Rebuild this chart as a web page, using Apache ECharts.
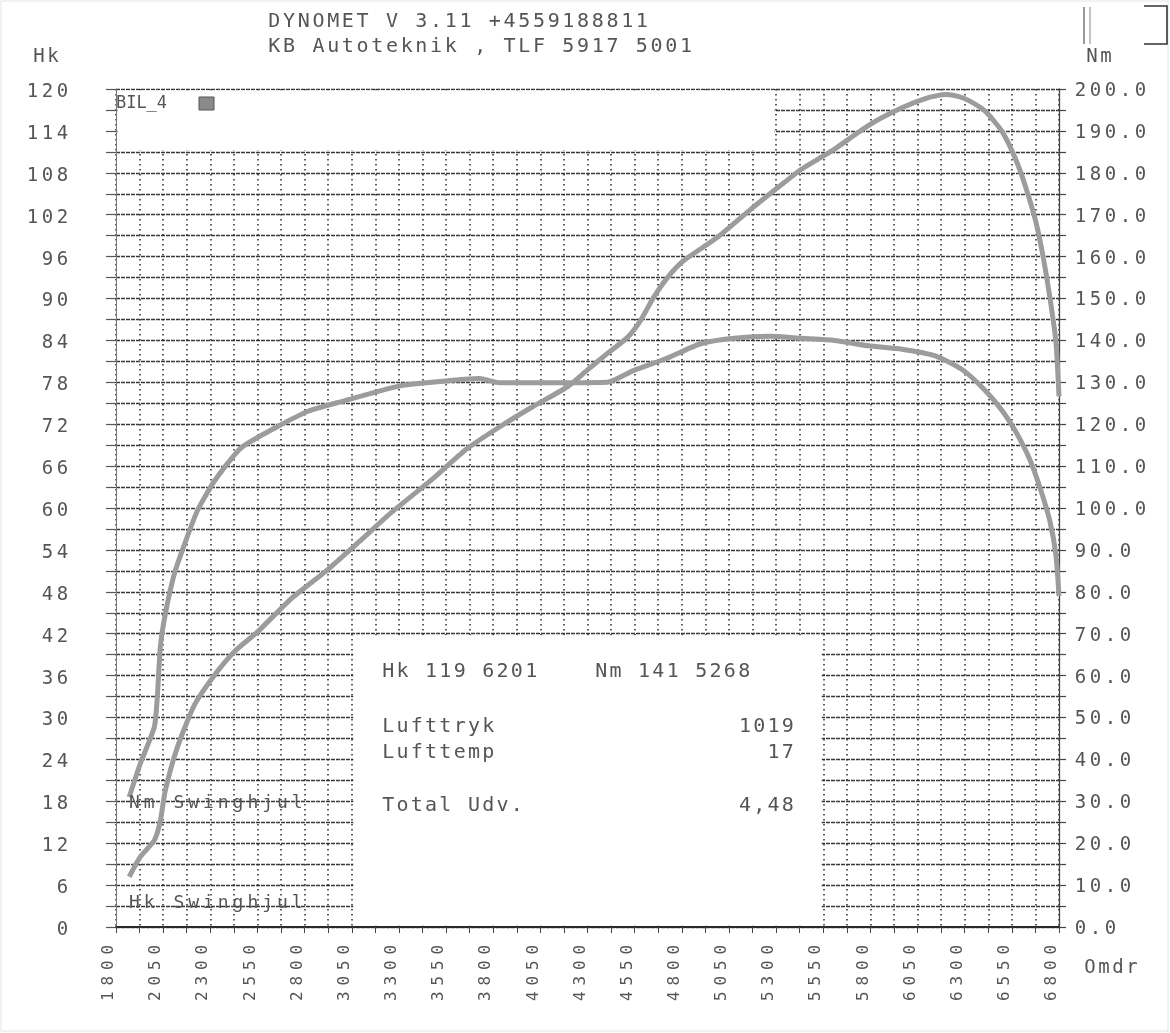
<!DOCTYPE html>
<html>
<head>
<meta charset="utf-8">
<script src="https://cdn.jsdelivr.net/npm/echarts@6/dist/echarts.min.js"></script>
<style>
html,body{margin:0;padding:0;background:#fff;}
#c{width:1170px;height:1033px;}
</style>
</head>
<body>
<div id="c"></div>
<script>
// ---------------- data ----------------
const titleLines = ['DYNOMET V 3.11 +4559188811', 'KB Autoteknik , TLF 5917 5001'];
const carName = 'BIL_4';
const infoLeft = ['Hk 119 6201', 'Lufttryk', 'Lufttemp', 'Total Udv.'];
const infoMid = 'Nm 141 5268';
const infoRight = ['1019', '17', '4,48'];
const seriesLabels = ['Nm Swinghjul', 'Hk Swinghjul'];
const axisNames = { left: 'Hk', right: 'Nm', bottom: 'Omdr' };

const rpmMin = 1800, rpmMax = 6800, rpmGrid = 125, rpmLabelStep = 250;
const hkMin = 0, hkMax = 120, hkGrid = 3, hkLabelStep = 6;
const nmMin = 0, nmMax = 200, nmGrid = 5, nmLabelStep = 10;

const torqueRpm = [1870, 1928, 2003, 2019, 2035, 2061, 2109, 2163, 2232, 2323, 2462, 2643, 2819, 2995,
  3299, 3476, 3726, 3833, 4009, 4191, 4404, 4543, 4724, 4900, 5076, 5268, 5434, 5610, 5791, 5967,
  6144, 6288, 6410, 6501, 6571, 6645, 6698, 6752, 6784, 6800];
const torqueNm = [31, 38.9, 47.7, 54.8, 66.8, 74.6, 84.2, 91.3, 99.4, 106.5, 114.3, 119.1, 123.1, 125.4,
  129.1, 130.0, 130.9, 129.9, 129.9, 129.9, 130.0, 132.8, 135.8, 139.2, 140.5, 141.0, 140.5, 140.0, 138.7, 137.9,
  136.3, 133.0, 128.0, 123.1, 118.2, 111.6, 105.0, 96.8, 88.6, 79];

const powerRpm = [1870, 1928, 2003, 2035, 2061, 2125, 2216, 2323, 2430, 2552, 2728, 2910, 3086, 3262,
  3476, 3657, 3833, 4009, 4191, 4297, 4404, 4511, 4580, 4649, 4724, 4809, 4991, 5167, 5343, 5434,
  5525, 5610, 5791, 5967, 6111, 6201, 6270, 6325, 6410, 6501, 6571, 6624, 6677, 6715, 6752, 6784, 6800];
const powerHk = [7.2, 10.0, 12.4, 15.2, 19.5, 25.7, 31.8, 36.1, 39.5, 42.3, 47.0, 50.9, 55.1, 59.4,
  64.1, 68.4, 71.6, 74.5, 77.3, 79.7, 82.1, 84.4, 86.8, 90.1, 93.0, 95.4, 98.8, 102.8, 106.6, 108.5,
  110.0, 111.4, 114.8, 117.3, 118.8, 119.2, 118.9, 118.3, 116.8, 113.8, 109.9, 105.9, 101.0, 96.1, 90.1, 83.7, 76];

// blank boxes on the sheet (in data units)
const headerBox = { rpm: [1800, 5300], hk: [111, 120] };
const infoBox = { rpm: [3050, 5550], hk: [0, 42] };

// ---------------- styling ----------------
const MONO = '"DejaVu Sans Mono", "Liberation Mono", monospace';
const INK = '#555';
function sp(s, k) {
  return Array.from(s).map(c => '{' + k + '|' + (c === ' ' ? '\u00a0' : c) + '}').join('');
}
function richChar(adv, size) {
  return { width: adv, align: 'center', fontFamily: MONO, fontSize: size, color: INK, fill: INK };
}

const chart = echarts.init(document.getElementById('c'), null, { renderer: 'canvas' });

const option = {
  animation: false,
  backgroundColor: '#fff',
  grid: { left: 116, right: 111, top: 89, bottom: 106, containLabel: false, outerBoundsMode: 'none' },
  xAxis: {
    type: 'value', min: rpmMin, max: rpmMax, interval: rpmGrid,
    name: sp(axisNames.bottom, 'n'), nameLocation: 'end', nameGap: 24,
    nameTextStyle: { padding: [82, 0, 0, 0], rich: { n: richChar(14, 19) } },
    axisLine: { show: true, onZero: false, lineStyle: { color: '#2a2a2a', width: 2 } },
    axisTick: { show: true, length: 6, lineStyle: { color: '#444', width: 1 } },
    axisLabel: {
      rotate: 90, margin: 15, padding: [0, 0, 14, 0],
      formatter: v => ((v - rpmMin) % rpmLabelStep === 0 ? sp(String(v), 'a') : ''),
      rich: { a: richChar(15.5, 16) }
    },
    splitLine: { show: true, lineStyle: { color: '#2a2a2a', width: 1.5, type: [1.5, 3.5] } }
  },
  yAxis: [
    {
      type: 'value', min: hkMin, max: hkMax, interval: hkGrid, position: 'left',
      name: sp(axisNames.left, 'n'), nameLocation: 'end', nameGap: 22,
      nameTextStyle: { align: 'right', padding: [0, 56, 0, 0], rich: { n: richChar(14, 19) } },
      axisLine: { show: true, lineStyle: { color: '#777', width: 1 } },
      axisTick: { show: true, length: 10, lineStyle: { color: '#555', width: 1.2 } },
      axisLabel: {
        margin: 46, padding: [6, 0, 0, 0],
        formatter: v => (v % hkLabelStep === 0 ? sp(String(v), 'a') : ''),
        rich: { a: richChar(15, 19) }
      },
      splitLine: { show: true, lineStyle: { color: '#383838', width: 1.3, type: [4, 1] } }
    },
    {
      type: 'value', min: nmMin, max: nmMax, interval: nmGrid, position: 'right',
      name: sp(axisNames.right, 'n'), nameLocation: 'end', nameGap: 22,
      nameTextStyle: { align: 'left', padding: [0, 0, 0, 26], rich: { n: richChar(14, 19) } },
      axisLine: { show: true, lineStyle: { color: '#444', width: 1.3 } },
      axisTick: { show: true, length: 7, lineStyle: { color: '#444', width: 1.2 } },
      axisLabel: {
        margin: 14, padding: [4, 0, 0, 0],
        formatter: v => (v % nmLabelStep === 0 ? sp(v.toFixed(1), 'a') : ''),
        rich: { a: richChar(15, 19) }
      },
      splitLine: { show: false }
    }
  ],
  series: [
    {
      name: 'Hk Swinghjul', type: 'line', yAxisIndex: 0, showSymbol: false, smooth: 0.2,
      data: powerRpm.map((r, i) => [r, powerHk[i]]),
      lineStyle: { color: '#9c9c9c', width: 5 }
    },
    {
      name: 'Nm Swinghjul', type: 'line', yAxisIndex: 1, showSymbol: false, smooth: 0.2,
      data: torqueRpm.map((r, i) => [r, torqueNm[i]]),
      lineStyle: { color: '#9c9c9c', width: 5 }
    }
  ]
};
chart.setOption(option);

// ---------------- sheet overlays ----------------
function px(rpm, hk) { return chart.convertToPixel({ xAxisIndex: 0, yAxisIndex: 0 }, [rpm, hk]); }
function maskRect(box) {
  const a = px(box.rpm[0], box.hk[1]);
  const b = px(box.rpm[1], box.hk[0]);
  return {
    type: 'rect', z: 1, silent: true,
    shape: { x: a[0] + 1.5, y: a[1] + 1.5, width: b[0] - a[0] - 3, height: b[1] - a[1] - 3 },
    style: { fill: '#fff' }
  };
}
function txt(s, x, y, adv, size, align) {
  return {
    type: 'text', z: 5, silent: true, x: x, y: y,
    style: {
      text: sp(s, 't'), align: align || 'left', verticalAlign: 'middle',
      fill: INK, font: size + 'px ' + MONO,
      rich: { t: richChar(adv, size) }
    }
  };
}

const els = [
  { type: 'rect', z: 0, silent: true, shape: { x: 1, y: 1, width: 1167, height: 1030 },
    style: { fill: 'none', stroke: '#e4e4e4', lineWidth: 1 } },
  maskRect(headerBox),
  maskRect(infoBox),
  txt(titleLines[0], 267, 22, 14.7, 20),
  txt(titleLines[1], 267, 47, 14.7, 20),
  txt(carName, 116, 104, 10.2, 17),
  { type: 'rect', z: 5, silent: true, shape: { x: 199, y: 97, width: 15, height: 13 },
    style: { fill: '#8a8a8a', stroke: '#555', lineWidth: 1 } },
  txt(infoLeft[0], 381, 672, 14.3, 20),
  txt(infoMid, 594, 672, 14.3, 20),
  txt(infoLeft[1], 381, 727, 14.3, 20),
  txt(infoLeft[2], 381, 753, 14.3, 20),
  txt(infoLeft[3], 381, 806, 14.3, 20),
  txt(infoRight[0], 795, 727, 14.3, 20, 'right'),
  txt(infoRight[1], 795, 753, 14.3, 20, 'right'),
  txt(infoRight[2], 795, 806, 14.3, 20, 'right'),
  txt(seriesLabels[0], 127, 803, 14.8, 18),
  txt(seriesLabels[1], 127, 903, 14.8, 18),
  // scanner marks at the top right of the sheet
  { type: 'line', z: 5, silent: true, shape: { x1: 1084, y1: 7, x2: 1084, y2: 44 }, style: { stroke: '#777', lineWidth: 1.5 } },
  { type: 'line', z: 5, silent: true, shape: { x1: 1090, y1: 7, x2: 1090, y2: 44 }, style: { stroke: '#999', lineWidth: 1.2 } },
  { type: 'polyline', z: 5, silent: true, shape: { points: [[1144, 6], [1167, 6], [1167, 44], [1144, 44]] },
    style: { stroke: '#333', lineWidth: 1.6, fill: 'none' } }
];
chart.setOption({ graphic: { elements: els } });
</script>
</body>
</html>
